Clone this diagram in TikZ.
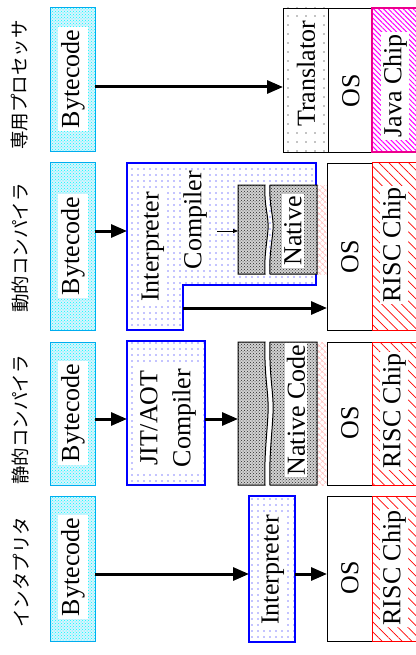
\documentclass[tikz,border=0pt]{standalone}
\usepackage{fontspec}
\setmainfont{Liberation Serif}
\newfontfamily\jp{Noto Sans CJK JP}
\usetikzlibrary{patterns,patterns.meta,arrows.meta,fit}
\tikzset{
  bx/.style={inner sep=0pt, outer sep=0pt},
  bcbox/.style={bx, draw=cyan, line width=1pt, preaction={fill=cyan!15}, pattern=crosshatch dots, pattern color=cyan},
  bluebox/.style={draw=blue, line width=2pt, pattern={Dots[distance=6pt,radius=0.6pt]}, pattern color=blue},
  trbox/.style={bx, draw=black, line width=0.8pt, pattern={Dots[distance=9pt,radius=0.6pt]}, pattern color=black},
  osbox/.style={bx, draw=black, line width=0.8pt, fill=white},
  javabox/.style={bx, draw=magenta, line width=2pt, pattern={Lines[angle=-45,distance=3.5pt,line width=1pt]}, pattern color=magenta},
  riscbox/.style={bx, draw=red, line width=1pt, pattern={Lines[angle=-45,distance=7pt,line width=0.7pt]}, pattern color=red},
  nat/.style={draw=black, line width=1pt, preaction={fill=gray!35}, pattern=crosshatch dots, pattern color=black!85},
  pinkz/.style={pattern={Hatch[angle=45,distance=4pt,line width=0.5pt]}, pattern color=pink},
  txt/.style={rotate=90, font=\fontsize{26}{30}\selectfont, fill=white, inner sep=3pt},
  ptxt/.style={rotate=90, font=\fontsize{26}{30}\selectfont, inner sep=1pt},
  lbl/.style={rotate=90, font=\jp\fontsize{18.5}{20}\selectfont, inner sep=0pt},
  arr/.style={line width=3pt, -{Triangle[length=16pt,width=13pt]}},
  sarr/.style={line width=0.8pt, -{Triangle[length=5pt,width=4pt]}},
}
\newcommand\nativepair[3]{%
  \draw[nat] (238,#2) -- (265,#2)
    .. controls (264,{#2+0.25*(#3-#2)}) and (269,{#2+0.35*(#3-#2)}) .. (268,{#2+0.5*(#3-#2)})
    .. controls (267,{#2+0.65*(#3-#2)}) and (264,{#2+0.8*(#3-#2)}) .. (265,#3)
    -- (238,#3) -- cycle;
  \draw[nat] (270,#2) -- (317,#2) -- (317,#3) -- (270,#3)
    .. controls (269,{#2+0.8*(#3-#2)}) and (272,{#2+0.65*(#3-#2)}) .. (273,{#2+0.5*(#3-#2)})
    .. controls (274,{#2+0.35*(#3-#2)}) and (269,{#2+0.25*(#3-#2)}) .. (270,#2) -- cycle;
  \fill[pinkz] (317.5,#2) rectangle (326.5,#3);
  \coordinate (#1) at (238,{(#2+#3)/2});
}
\begin{document}
\begin{tikzpicture}[x=1pt,y=-1pt]
\useasboundingbox (0,0) rectangle (415,655);

% ---------- Row 1 ----------
\node[lbl] (l1) at (20,85) {専用プロセッサ};
\node[bcbox, fit={(50,8)(95,152)}] (bc1) {};
\node[txt] (bc1t) at (73,79) {Bytecode};
\node[trbox, fit={(283,8)(328,152)}] (tr1) {};
\node[ptxt, fill=white] (tr1t) at (306,74) {Translator};
\node[osbox, fit={(328,8)(372,152)}] (os1) {};
\node[ptxt] (os1t) at (351,91) {OS};
\node[javabox, fit={(372,8)(418,152)}] (ch1) {};
\node[txt, inner sep=2pt] (ch1t) at (395,86) {Java Chip};
\coordinate (r1) at (0,87);
\draw[arr] (bc1.east |- r1) -- (tr1.west |- r1);

% ---------- Row 2 ----------
\node[lbl] (l2) at (20,248) {動的コンパイラ};
\node[bcbox, fit={(50,163)(95,330)}] (bc2) {};
\node[txt] (bc2t) at (73,246) {Bytecode};
\draw[bluebox] (127,163) -- (316,163) -- (316,285) -- (183,285) -- (183,330) -- (127,330) -- cycle;
\coordinate (dynin) at (127,231);
\coordinate (dynout) at (183,308);
\coordinate (cmpout) at (217,231);
\node[ptxt, fill=white] (int2t) at (153,247) {Interpreter};
\node[ptxt, fill=white] (cmp2t) at (195,220) {Compiler};
\nativepair{nat2}{185}{274}
\node[txt, inner sep=2pt] (nat2t) at (293,231) {Native};
\node[osbox, fit={(327,163)(372,330)}] (os2) {};
\node[ptxt] (os2t) at (350,257) {OS};
\node[riscbox, fit={(372,163)(418,330)}] (ch2) {};
\node[txt, inner sep=2pt] (ch2t) at (394,245) {RISC Chip};
\draw[arr] (bc2.east |- dynin) -- (dynin);
\draw[sarr] (cmpout) -- (nat2 |- cmpout);
\draw[arr] (dynout) -- (os2.west |- dynout);

% ---------- Row 3 ----------
\node[lbl] (l3) at (20,420) {静的コンパイラ};
\node[bcbox, fit={(50,342)(95,485)}] (bc3) {};
\node[txt] (bc3t) at (73,413) {Bytecode};
\node[bluebox, bx, fit={(127,341)(205,485)}] (jit3) {};
\node[txt, align=center, inner sep=3pt, font=\fontsize{26}{33}\selectfont] (jit3t) at (168,418) {JIT/AOT\\Compiler};
\nativepair{nat3}{342}{485}
\node[txt, inner sep=2pt] (nat3t) at (296,410) {Native Code};
\node[osbox, fit={(327,342)(372,485)}] (os3) {};
\node[ptxt] (os3t) at (350,423) {OS};
\node[riscbox, fit={(372,342)(418,485)}] (ch3) {};
\node[txt, inner sep=2pt] (ch3t) at (394,411) {RISC Chip};
\coordinate (r3) at (0,419);
\draw[arr] (bc3.east |- r3) -- (jit3.west |- r3);
\draw[arr] (jit3.east |- r3) -- (nat3 |- r3);

% ---------- Row 4 ----------
\node[lbl] (l4) at (21,572) {インタプリタ};
\node[bcbox, fit={(50,496)(95,641)}] (bc4) {};
\node[txt] (bc4t) at (73,567) {Bytecode};
\node[bluebox, bx, fit={(249,496)(295,642)}] (int4) {};
\node[txt, inner sep=2pt] (int4t) at (273,570) {Interpreter};
\node[osbox, fit={(327,496)(372,641)}] (os4) {};
\node[ptxt] (os4t) at (350,578) {OS};
\node[riscbox, fit={(372,496)(418,641)}] (ch4) {};
\node[txt, inner sep=2pt] (ch4t) at (394,568) {RISC Chip};
\coordinate (r4) at (0,574);
\draw[arr] (bc4.east |- r4) -- (int4.west |- r4);
\draw[arr] (int4.east |- r4) -- (os4.west |- r4);
\end{tikzpicture}
\end{document}
